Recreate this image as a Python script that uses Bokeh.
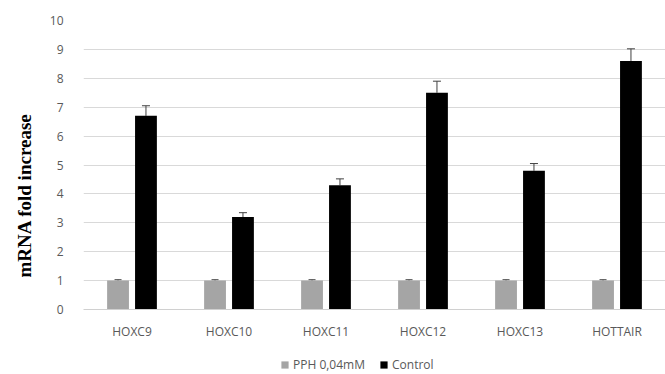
from bokeh.plotting import figure
from bokeh.models import (ColumnDataSource, Whisker, FactorRange, Range1d, Legend,
                          LegendItem, TeeHead, FixedTicker, Title)
from bokeh.layouts import column
from bokeh.transform import dodge
from bokeh.embed import file_html
from bokeh.resources import INLINE

genes = ["HOXC9", "HOXC10", "HOXC11", "HOXC12", "HOXC13", "HOTTAIR"]
pph = [1.0, 1.0, 1.0, 1.0, 1.0, 1.0]
pph_err = [0.03, 0.03, 0.03, 0.03, 0.03, 0.03]
control = [6.7, 3.2, 4.3, 7.5, 4.8, 8.6]
control_err = [0.35, 0.15, 0.22, 0.4, 0.25, 0.42]
y_ticks = [0, 1, 2, 3, 4, 5, 6, 7, 8, 9, 10]
series_names = ["PPH 0,04mM", "Control"]
colors = ["#a5a5a5", "#000000"]

src = ColumnDataSource(dict(
    genes=genes, pph=pph, control=control,
    pph_up=[v + e for v, e in zip(pph, pph_err)],
    control_up=[v + e for v, e in zip(control, control_err)],
))

p = figure(width=665, height=344, x_range=FactorRange(*genes), y_range=Range1d(0, 10),
           output_backend="svg", toolbar_location=None,
           min_border_left=83, min_border_right=0, min_border_top=20, min_border_bottom=35)
p.outline_line_color = None

off = 0.144
bw = 0.225
p.vbar(x=dodge("genes", -off, range=p.x_range), top="pph", width=bw, source=src,
       fill_color=colors[0], line_color=None)
p.vbar(x=dodge("genes", off, range=p.x_range), top="control", width=bw, source=src,
       fill_color=colors[1], line_color=None)

w1 = Whisker(base=dodge("genes", -off, range=p.x_range), upper="pph_up", lower="pph", source=src,
             line_color="#404040", line_width=1,
             upper_head=TeeHead(size=7, line_color="#404040", line_width=1))
w1.lower_head.size = 0
w1.lower_head.line_alpha = 0
w2 = Whisker(base=dodge("genes", off, range=p.x_range), upper="control_up", lower="control", source=src,
             line_color="#404040", line_width=1,
             upper_head=TeeHead(size=8, line_color="#404040", line_width=1))
w2.lower_head.size = 0
w2.lower_head.line_alpha = 0
p.add_layout(w1)
p.add_layout(w2)

p.xgrid.grid_line_color = None
p.ygrid.grid_line_color = "#d9d9d9"
p.ygrid.ticker = FixedTicker(ticks=y_ticks)
p.yaxis.ticker = FixedTicker(ticks=y_ticks)

p.yaxis.axis_line_color = None
p.yaxis.major_tick_line_color = None
p.yaxis.minor_tick_line_color = None
p.yaxis.major_label_text_font = "Open Sans"
p.yaxis.major_label_text_font_size = "12px"
p.yaxis.major_label_text_color = "#595959"
p.yaxis.major_label_standoff = 14

ytitle = Title(text="mRNA fold increase", align="left", offset=32,
               text_font="Liberation Serif", text_font_style="bold",
               text_font_size="19px", text_color="#000000", standoff=23)
p.add_layout(ytitle, "left")

p.xaxis.axis_line_color = "#d0d0d0"
p.xaxis.major_tick_line_color = None
p.xaxis.minor_tick_line_color = None
p.xaxis.major_label_text_font = "Open Sans"
p.xaxis.major_label_text_font_size = "12px"
p.xaxis.major_label_text_color = "#595959"
p.xaxis.major_label_standoff = 7

# legend strip
lg = figure(width=665, height=30, output_backend="svg", toolbar_location=None,
            min_border_left=83, min_border_right=0, min_border_top=0, min_border_bottom=0,
            x_range=Range1d(0, 1), y_range=Range1d(0, 1))
lg.axis.visible = False
lg.grid.visible = False
lg.outline_line_color = None
items = []
for name, col in zip(series_names, colors):
    r = lg.rect(x=[-5], y=[-5], width=1, height=1, fill_color=col, line_color=None)
    items.append(LegendItem(label=name, renderers=[r]))
legend = Legend(items=items, orientation="horizontal", location=(197, 1),
                border_line_color=None, background_fill_alpha=0,
                label_text_font="Open Sans", label_text_font_size="12px",
                label_text_color="#595959", glyph_width=9, glyph_height=9,
                spacing=14, label_standoff=4, padding=0, margin=0)
lg.add_layout(legend)

open("out.html", "w").write(file_html(column(p, lg, spacing=0), INLINE))
